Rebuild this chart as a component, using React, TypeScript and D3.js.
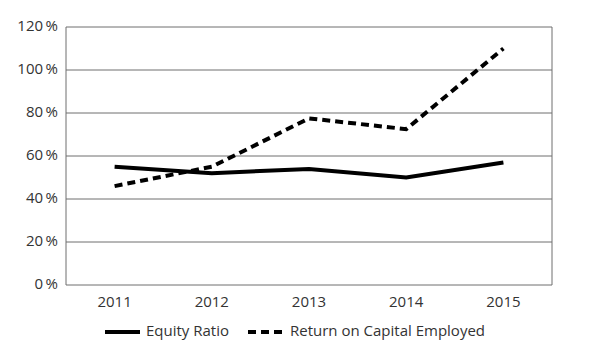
import React from 'react';
import * as d3 from 'd3';

const years = ['2011', '2012', '2013', '2014', '2015'];
const equityRatio = [55, 52, 54, 50, 57];
const roce = [46, 55, 77.5, 72.5, 110];
const yTicks = [0, 20, 40, 60, 80, 100, 120];

const width = 600;
const height = 358;
const margin = { top: 27, right: 48, bottom: 73, left: 66 };
const font = "'Open Sans', sans-serif";

const App: React.FC = () => {
  const x = d3.scaleBand()
    .domain(years)
    .range([margin.left, width - margin.right]);

  const y = d3.scaleLinear()
    .domain([0, 120])
    .range([height - margin.bottom, margin.top]);

  const line = d3.line<number>()
    .x((_, i) => (x(years[i]) || 0) + x.bandwidth() / 2)
    .y(d => y(d));

  return (
    <svg width={width} height={height} style={{ position: 'absolute', left: 0, top: 0, background: '#fff' }}>
      {/* 网格线 */}
      {yTicks.map(t => (
        <g key={t}>
          <line x1={margin.left} x2={width - margin.right} y1={y(t)} y2={y(t)} stroke="#6e6e6e" strokeWidth={1} />
          <text x={margin.left - 8} y={y(t) - 1} dy="0.35em" textAnchor="end" fontFamily={font} fontSize={15} fill="#333">
            {t}{'\u2009'}%
          </text>
        </g>
      ))}
      <line x1={margin.left} x2={margin.left} y1={y(0)} y2={y(120)} stroke="#6e6e6e" />
      <line x1={width - margin.right} x2={width - margin.right} y1={y(0)} y2={y(120)} stroke="#6e6e6e" />

      {years.map(yr => (
        <text key={yr} x={(x(yr) || 0) + x.bandwidth() / 2} y={y(0) + 17} dy="0.35em" textAnchor="middle" fontFamily={font} fontSize={15} fill="#333">
          {yr}
        </text>
      ))}

      <path d={line(equityRatio) || ''} fill="none" stroke="#000" strokeWidth={4} />
      <path d={line(roce) || ''} fill="none" stroke="#000" strokeWidth={4} strokeDasharray="8 5" />

      {/* 图例 */}
      <line x1={105} x2={140} y1={332} y2={332} stroke="#000" strokeWidth={4} />
      <text x={146} y={331} dy="0.35em" fontFamily={font} fontSize={15} fill="#333">Equity Ratio</text>
      <line x1={248} x2={283} y1={332} y2={332} stroke="#000" strokeWidth={4} strokeDasharray="8 5" />
      <text x={290} y={331} dy="0.35em" fontFamily={font} fontSize={15} fill="#333">Return on Capital Employed</text>
    </svg>
  );
};

export default App;
